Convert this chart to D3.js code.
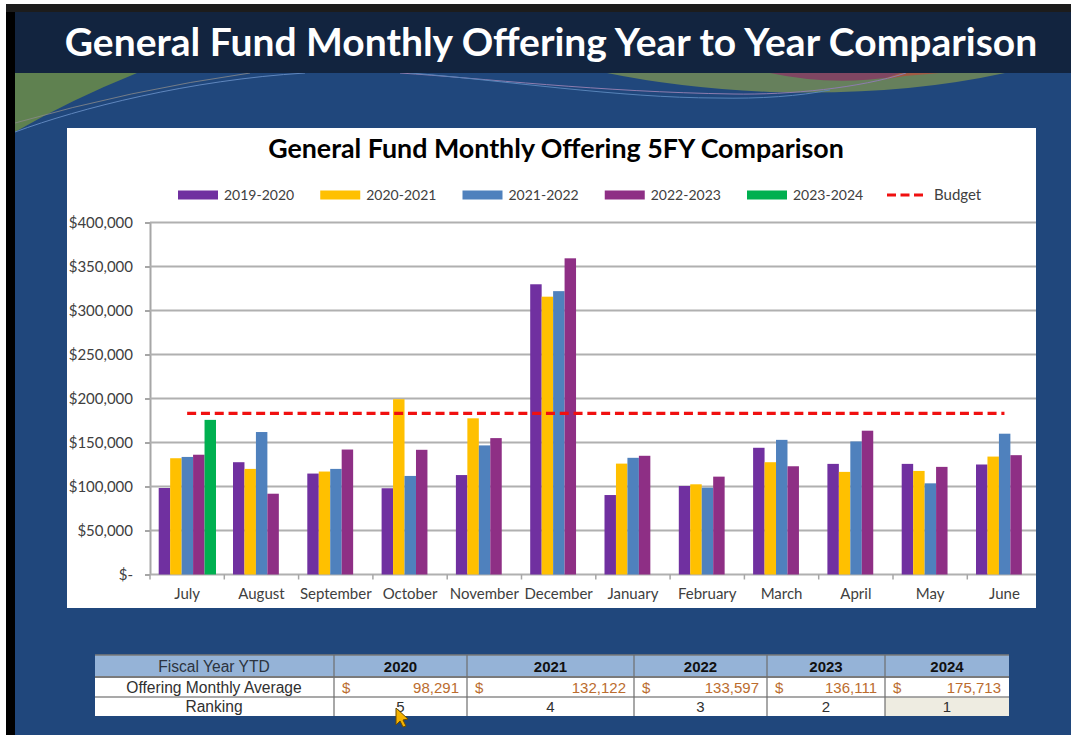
<!DOCTYPE html>
<html>
<head>
<meta charset="utf-8">
<script src="https://cdn.jsdelivr.net/npm/d3@7"></script>
<style>
  html, body { margin: 0; padding: 0; background: white; overflow: hidden; }
  svg { display: block; font-family: Lato, sans-serif; }
  .table-text text { font-family: "Liberation Sans", Arial, sans-serif; font-size: 15px; }
  .table-text text.row-label { font-size: 15.6px; }
</style>
</head>
<body>
<script>
const months = ["July", "August", "September", "October", "November", "December",
  "January", "February", "March", "April", "May", "June"];
const seriesNames = ["2019-2020", "2020-2021", "2021-2022", "2022-2023", "2023-2024"];
const seriesColors = ["#7030a0", "#ffc000", "#4f81bd", "#8e2f85", "#00b050"];

const fy2020 = [98291, 127600, 114700, 98000, 113000, 329800, 90300, 100600, 144000, 125700, 125700, 125000];
const fy2021 = [132122, 120000, 117000, 199200, 177500, 315700, 126000, 102500, 127600, 116600, 117700, 134000];
const fy2022 = [133597, 161900, 120000, 112000, 146700, 322000, 132600, 98700, 153000, 151200, 103600, 160000];
const fy2023 = [136111, 91800, 142000, 141700, 155000, 359300, 134900, 111200, 123000, 163400, 122300, 135600];
const fy2024 = [175713, null, null, null, null, null, null, null, null, null, null, null];
const seriesValues = [fy2020, fy2021, fy2022, fy2023, fy2024];
const budget = [183200, 183200, 183200, 183200, 183200, 183200, 183200, 183200, 183200, 183200, 183200, 183200];
const yTicks = [0, 50000, 100000, 150000, 200000, 250000, 300000, 350000, 400000];

const tableYears = ["2020", "2021", "2022", "2023", "2024"];
const tableAverages = ["98,291", "132,122", "133,597", "136,111", "175,713"];
const tableRanks = ["5", "4", "3", "2", "1"];

const svg = d3.select("body").append("svg").attr("width", 1071).attr("height", 735);

const rect = (selection, x, y, w, h, fill) =>
  selection.append("rect").attr("x", x).attr("y", y).attr("width", w).attr("height", h).attr("fill", fill);
const shape = (selection, d, fill, stroke) =>
  selection.append("path").attr("d", d).attr("fill", fill || "none").attr("stroke", stroke || "none");

// slide background
function slide() {
  rect(svg, 0, 0, 1071, 735, "white");
  rect(svg, 6, 4, 1065, 8, "#1c1c1c");
  rect(svg, 6, 12, 9, 723, "#000");
  rect(svg, 15, 12, 1056, 723, "#20477c");
  shape(svg, "M15,73 H137 Q70,100 15,132 Z", "#5f8150");
  shape(svg, "M607,73 Q680,88 770,92 Q900,96 1005,73 Z", "#66805c");
  shape(svg, "M770,73 Q830,86 893,77 L905,73 Z", "#7f4662");
  shape(svg, "M880,80 L905,76 L940,73 H900 Z", "#a05a44");
  shape(svg, "M15,123 Q130,90 250,73", null, "#8a8a8a").attr("stroke-opacity", 0.8);
  shape(svg, "M15,132 C80,108 190,80 305,73", null, "#5f86bd");
  shape(svg, "M400,73 C480,78 600,92 733,94 C790,95 860,88 906,73", null, "#8d7cae");
  shape(svg, "M410,73 C500,80 620,98 717,98 C760,99 800,96 830,90", null, "#5783b8");
  rect(svg, 15, 12, 1056, 61, "#12243f");
  svg.append("text").text("General Fund Monthly Offering Year to Year Comparison")
    .attr("x", 551).attr("y", 56).attr("text-anchor", "middle")
    .attr("fill", "white").attr("font-weight", 700).attr("font-size", 39);
  rect(svg, 67, 128, 969, 480, "white");
}

const x = d3.scaleBand().domain(months).range([150, 1041.6]);
const xSeries = d3.scaleBand().domain(seriesNames).range([8.7, 66]);
const y = d3.scaleLinear().domain([0, 400000]).range([574.5, 222.5]);

function chart() {
  svg.append("clipPath").attr("id", "panel").append("rect")
    .attr("x", 67).attr("y", 128).attr("width", 969).attr("height", 480);
  const g = svg.append("g").attr("clip-path", "url(#panel)");

  g.append("text").text("General Fund Monthly Offering 5FY Comparison")
    .attr("x", 556).attr("y", 158).attr("text-anchor", "middle")
    .attr("fill", "#000").attr("font-weight", 700).attr("font-size", 26.8);

  // gridlines and y labels
  const yAxis = g.append("g").attr("transform", "translate(150,0)")
    .call(d3.axisLeft(y).tickValues(yTicks).tickSize(5).tickSizeOuter(0).tickPadding(12)
      .tickFormat(d => (d === 0 ? "$-" : d3.format("$,")(d))));
  yAxis.select(".domain").attr("stroke", "#a6a6a6").attr("stroke-width", 2);
  yAxis.selectAll(".tick line").attr("stroke", "#a6a6a6").attr("stroke-width", 2);
  yAxis.selectAll(".tick text").attr("fill", "#404040").attr("font-size", 15).attr("font-family", "Lato");

  g.selectAll(".grid").data(yTicks).join("line").attr("class", "grid")
    .attr("x1", 150).attr("x2", 1041.6)
    .attr("y1", d => y(d)).attr("y2", d => y(d))
    .attr("stroke", "#b0b0b0").attr("stroke-width", 2);

  // month ticks sit on the band edges
  g.selectAll(".month-tick").data(months).join("line").attr("class", "month-tick")
    .attr("x1", d => x(d)).attr("x2", d => x(d))
    .attr("y1", y(0)).attr("y2", y(0) + 5)
    .attr("stroke", "#a6a6a6").attr("stroke-width", 1.5);

  const xAxis = g.append("g").attr("transform", `translate(0,${y(0)})`)
    .call(d3.axisBottom(x).tickSize(0).tickPadding(14));
  xAxis.select(".domain").remove();
  xAxis.selectAll(".tick text").attr("fill", "#404040").attr("font-size", 15).attr("font-family", "Lato");

  // bars
  seriesValues.forEach((values, s) => {
    g.append("g").selectAll("rect")
      .data(months.map((m, i) => ({ m, v: values[i] })).filter(d => d.v !== null))
      .join("rect")
      .attr("x", d => x(d.m) + xSeries(seriesNames[s]))
      .attr("width", xSeries.bandwidth())
      .attr("y", d => y(d.v))
      .attr("height", d => y(0) - y(d.v))
      .attr("fill", seriesColors[s]);
  });

  // budget
  const budgetLine = d3.line()
    .x((d, i) => x(months[i]) + x.bandwidth() / 2)
    .y(d => y(d));
  g.append("path").attr("d", budgetLine(budget))
    .attr("fill", "none").attr("stroke", "#f01010").attr("stroke-width", 3.2)
    .attr("stroke-dasharray", "9 4.8");

  legend(g);
}

function legend(g) {
  const legendX = d3.scalePoint().domain(seriesNames).range([178, 747]);
  const items = g.selectAll(".legend").data(seriesNames).join("g").attr("class", "legend")
    .attr("transform", d => `translate(${legendX(d)},195)`);
  items.append("rect").attr("y", -4.5).attr("width", 40).attr("height", 9)
    .attr("fill", (d, i) => seriesColors[i]);
  items.append("text").text(d => d).attr("x", 46).attr("y", 5)
    .attr("fill", "#404040").attr("font-size", 14);

  g.append("line").attr("x1", 887).attr("x2", 925).attr("y1", 195).attr("y2", 195)
    .attr("stroke", "#f01010").attr("stroke-width", 3.2).attr("stroke-dasharray", "9 4.5");
  g.append("text").text("Budget").attr("x", 934).attr("y", 200)
    .attr("fill", "#404040").attr("font-size", 15);
}

function table() {
  const edges = [334, 467, 634, 767, 885, 1009];
  const rows = [655, 677, 697, 716];
  const left = 95;
  const g = svg.append("g").attr("class", "table-text");

  rect(g, left, rows[0], 1009 - left, rows[1] - rows[0], "#95b3d7");
  rect(g, left, rows[1], 1009 - left, rows[3] - rows[1], "white");
  rect(g, edges[4], rows[2], edges[5] - edges[4], rows[3] - rows[2], "#eeece1");

  rows.slice(0, 3).forEach((r, i) =>
    g.append("line").attr("x1", left).attr("x2", 1009).attr("y1", r).attr("y2", r)
      .attr("stroke", i === 2 ? "#8c8c8c" : "#7a7a7a").attr("stroke-width", i === 1 ? 2 : 1.5));
  edges.slice(0, 5).forEach(e =>
    g.append("line").attr("x1", e).attr("x2", e).attr("y1", rows[0]).attr("y2", rows[3])
      .attr("stroke", "#6e6e6e").attr("stroke-width", 1.2));

  const label = (str, tx, ty, anchor, fill, weight) =>
    g.append("text").text(str).attr("x", tx).attr("y", ty).attr("text-anchor", anchor)
      .attr("fill", fill).attr("font-weight", weight || 400);

  label("Fiscal Year YTD", 214, 672, "middle", "#2c3440").attr("class", "row-label");
  label("Offering Monthly Average", 214, 693, "middle", "#303030").attr("class", "row-label");
  label("Ranking", 214, 712, "middle", "#303030").attr("class", "row-label");

  tableYears.forEach((year, i) => {
    const c0 = edges[i];
    const c1 = edges[i + 1];
    label(year, (c0 + c1) / 2, 672, "middle", "#111", 700);
    label("$", c0 + 8, 693, "start", "#bb6c2e");
    label(tableAverages[i], c1 - 8, 693, "end", "#bb6c2e");
    label(tableRanks[i], (c0 + c1) / 2, 712, "middle", "#303030");
  });

  // mouse pointer from the screen recording
  shape(svg, "M396,708 L396,725 L400,721 L403,727 L406,726 L403,720 L408,719 Z", "#f5b301", "#6b4a00");
}

slide();
chart();
table();
</script>
</body>
</html>
